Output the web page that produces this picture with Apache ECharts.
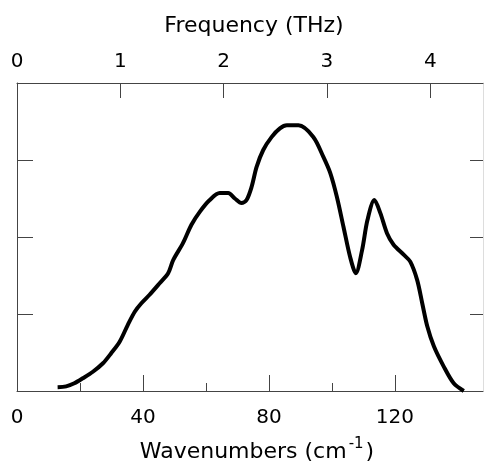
<!DOCTYPE html>
<html>
<head>
<meta charset="utf-8">
<script src="https://cdn.jsdelivr.net/npm/echarts@6/dist/echarts.min.js"></script>
<style>html,body{margin:0;padding:0;background:#fff}#c{width:486px;height:470px}</style>
</head>
<body>
<div id="c"></div>
<script>
// Wavenumber (cm^-1) and relative intensity
var wavenumbers = [12.9, 15.6, 18.2, 20.9, 24.1, 27.3, 29.9, 32.6, 35.2, 37.4, 39.5, 42.1, 45.3, 48.0, 49.6, 52.7, 55.4, 58.1, 61.2, 64.4, 67.1, 69.2, 71.3, 72.9, 74.5, 76.1, 78.2, 80.9, 83.5, 85.7, 89.4, 94.1, 97.3, 99.5, 101.6, 103.7, 105.8, 107.6, 109.6, 111.3, 113.5, 115.4, 117.5, 119.6, 122.8, 124.9, 127.1, 128.7, 130.3, 132.4, 135.5, 138.7, 141.9];
var intensity   = [0.05, 0.06, 0.10, 0.165, 0.25, 0.36, 0.49, 0.64, 0.86, 1.03, 1.14, 1.25, 1.40, 1.53, 1.70, 1.92, 2.16, 2.33, 2.48, 2.57, 2.57, 2.50, 2.44, 2.48, 2.65, 2.91, 3.13, 3.30, 3.41, 3.45, 3.45, 3.30, 3.04, 2.83, 2.52, 2.13, 1.74, 1.53, 1.83, 2.22, 2.48, 2.31, 2.05, 1.90, 1.77, 1.68, 1.44, 1.14, 0.84, 0.58, 0.32, 0.10, 0.00];
var wnMajorTicks = [0, 40, 80, 120];
var wnMinorTicks = [20, 60, 100];
var thzTicks = [1, 2, 3, 4];
var thzLabels = [0, 1, 2, 3, 4];

var WN_MAX = 148, THZ_MAX = 4.51;
var pts = wavenumbers.map(function (x, i) { return [x, intensity[i]]; });
var axisCol = '#444';
var font = 'DejaVu Sans';

var chart = echarts.init(document.getElementById('c'));
chart.setOption({
  animation: false,
  backgroundColor: '#fff',
  grid: { left: 17, top: 83, right: 3, bottom: 79, containLabel: false },
  xAxis: [
    {
      type: 'value', position: 'bottom', min: 0, max: WN_MAX,
      name: '{a|Wavenumbers (cm}{s|-1}{a|)}', nameLocation: 'middle', nameGap: 46,
      nameTextStyle: {
        padding: [0, 0, 0, 14],
        rich: {
          a: { fontFamily: font, fontSize: 22, color: '#000' },
          s: { fontFamily: font, fontSize: 15, color: '#000', padding: [0, 2, 16, 2] }
        }
      },
      axisLine: { show: true, onZero: false, lineStyle: { color: axisCol, width: 1 } },
      axisTick: { show: true, inside: true, length: 16, customValues: wnMajorTicks, lineStyle: { color: axisCol } },
      axisLabel: { show: true, customValues: wnMajorTicks, margin: 17, fontFamily: font, fontSize: 20, color: '#000' },
      splitLine: { show: false }
    },
    {
      type: 'value', position: 'bottom', min: 0, max: WN_MAX,
      axisLine: { show: false, onZero: false },
      axisTick: { show: true, inside: true, length: 8, customValues: wnMinorTicks, lineStyle: { color: axisCol } },
      axisLabel: { show: false },
      splitLine: { show: false }
    },
    {
      type: 'value', position: 'top', min: 0, max: THZ_MAX,
      name: 'Frequency (THz)', nameLocation: 'middle', nameGap: 46,
      nameTextStyle: { fontFamily: font, fontSize: 22, color: '#000', padding: [0, 0, 0, 8] },
      axisLine: { show: true, onZero: false, lineStyle: { color: axisCol, width: 1 } },
      axisTick: { show: true, inside: true, length: 15, customValues: thzTicks, lineStyle: { color: axisCol } },
      axisLabel: { show: true, customValues: thzLabels, margin: 11, fontFamily: font, fontSize: 20, color: '#000' },
      splitLine: { show: false }
    }
  ],
  yAxis: [
    {
      type: 'value', position: 'left', min: 0, max: 4, interval: 1,
      axisLine: { show: true, onZero: false, lineStyle: { color: axisCol, width: 1 } },
      axisTick: { show: true, inside: true, length: 16, lineStyle: { color: axisCol } },
      axisLabel: { show: false },
      splitLine: { show: false }
    },
    {
      type: 'value', position: 'right', min: 0, max: 4, interval: 1,
      axisLine: { show: true, onZero: false, lineStyle: { color: '#ddd', width: 1 } },
      axisTick: { show: true, inside: true, length: 13, lineStyle: { color: axisCol } },
      axisLabel: { show: false },
      splitLine: { show: false }
    }
  ],
  series: [{
    type: 'line', xAxisIndex: 0, yAxisIndex: 0,
    data: pts, showSymbol: false, smooth: 0.3,
    lineStyle: { color: '#000', width: 4 }
  }]
});
</script>
</body>
</html>
